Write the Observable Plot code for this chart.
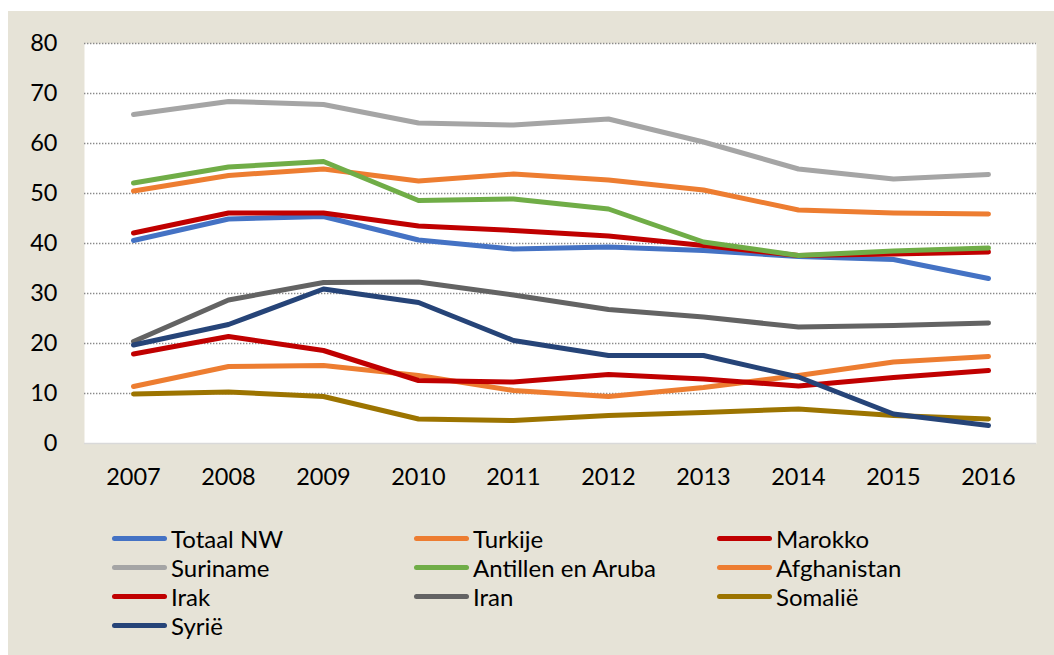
<!DOCTYPE html>
<html>
<head>
<meta charset="utf-8">
<script src="https://cdn.jsdelivr.net/npm/d3@7"></script>
<script src="https://cdn.jsdelivr.net/npm/@observablehq/plot@0.6"></script>
<style>
  html, body { margin: 0; padding: 0; background: #ffffff; }
  body { width: 1054px; height: 655px; overflow: hidden; position: relative; font-family: Lato, "Open Sans", sans-serif; }
  #panel { position: absolute; left: 8px; top: 11px; width: 1046px; height: 644px; background: #E6E3D7; }
  #chart { position: absolute; left: 0; top: 0; }
  #legend { position: absolute; left: 0; top: 0; width: 1046px; height: 644px; }
  .item { position: absolute; display: flex; align-items: center; height: 29px; font-size: 24px; color: #000; white-space: nowrap; }
  .sw { width: 55px; height: 5px; border-radius: 3px; margin-right: 4px; }
</style>
</head>
<body>
<div id="panel">
  <div id="chart"></div>
  <div id="legend"></div>
</div>
<script>
const years = ["2007","2008","2009","2010","2011","2012","2013","2014","2015","2016"];
const seriesNames = ["Totaal NW","Turkije","Marokko","Suriname","Antillen en Aruba","Afghanistan","Irak","Iran","Somalië","Syrië"];
const seriesColors = ["#4472C4","#ED7D31","#C00000","#A5A5A5","#70AD47","#ED7D31","#C00000","#636363","#9C7400","#264478"];

const totaalNW    = [40.6, 44.9, 45.4, 40.7, 38.9, 39.3, 38.6, 37.4, 36.8, 33.0];
const turkije     = [50.5, 53.6, 54.9, 52.5, 53.9, 52.7, 50.7, 46.7, 46.1, 45.9];
const marokko     = [42.1, 46.1, 46.1, 43.5, 42.6, 41.5, 39.6, 37.6, 37.9, 38.3];
const suriname    = [65.8, 68.4, 67.8, 64.1, 63.7, 64.9, 60.3, 54.9, 52.9, 53.8];
const antillen    = [52.1, 55.3, 56.4, 48.6, 48.9, 46.9, 40.3, 37.6, 38.5, 39.1];
const afghanistan = [11.4, 15.4, 15.6, 13.6, 10.6, 9.4, 11.2, 13.6, 16.3, 17.4];
const irak        = [17.9, 21.4, 18.6, 12.6, 12.3, 13.8, 12.9, 11.5, 13.2, 14.6];
const iran        = [20.4, 28.7, 32.2, 32.3, 29.7, 26.8, 25.3, 23.3, 23.6, 24.1];
const somalie     = [9.9, 10.3, 9.4, 4.9, 4.6, 5.6, 6.2, 6.9, 5.6, 4.9];
const syrie       = [19.7, 23.8, 30.9, 28.2, 20.6, 17.6, 17.6, 13.3, 5.9, 3.6];

const seriesValues = [totaalNW, turkije, marokko, suriname, antillen, afghanistan, irak, iran, somalie, syrie];
const yTicks = [0, 10, 20, 30, 40, 50, 60, 70, 80];
const gridTicks = [10, 20, 30, 40, 50, 60, 70, 80];

const data = [];
seriesNames.forEach((name, i) => {
  years.forEach((yr, j) => data.push({series: name, year: yr, value: seriesValues[i][j]}));
});

const chart = Plot.plot({
  width: 1046,
  height: 500,
  marginLeft: 76,
  marginRight: 18,
  marginTop: 32,
  marginBottom: 68,
  style: {background: "transparent", fontFamily: "Lato, 'Open Sans', sans-serif", color: "#000"},
  x: {type: "point", domain: years, padding: 0.5, label: null},
  y: {domain: [0, 80], label: null},
  color: {domain: seriesNames, range: seriesColors},
  marks: [
    Plot.frame({fill: "#ffffff", stroke: null}),
    Plot.ruleY(gridTicks, {stroke: "#8a8a8a", strokeWidth: 1.4, strokeDasharray: "1.4 1.6"}),
    Plot.ruleY([0], {stroke: "#d9d9d9", strokeWidth: 1.5}),
    Plot.line(data, {x: "year", y: "value", z: "series", stroke: "series", strokeWidth: 5, strokeLinecap: "round", strokeLinejoin: "round"}),
    Plot.axisX({tickSize: 0, tickPadding: 25, fontSize: 23.5, fill: "#000"}),
    Plot.axisY({ticks: yTicks, tickSize: 0, tickPadding: 27, fontSize: 23.5, fill: "#000"})
  ]
});
document.getElementById("chart").appendChild(chart);

const legend = document.getElementById("legend");
const colX = [104, 406, 709];
const rowY = [512.5, 541.8, 571.1, 600.4];
seriesNames.forEach((name, i) => {
  const item = document.createElement("div");
  item.className = "item";
  item.style.left = colX[i % 3] + "px";
  item.style.top = rowY[Math.floor(i / 3)] + "px";
  const sw = document.createElement("div");
  sw.className = "sw";
  sw.style.background = seriesColors[i];
  const label = document.createElement("span");
  label.textContent = name;
  item.appendChild(sw);
  item.appendChild(label);
  legend.appendChild(item);
});
</script>
</body>
</html>
